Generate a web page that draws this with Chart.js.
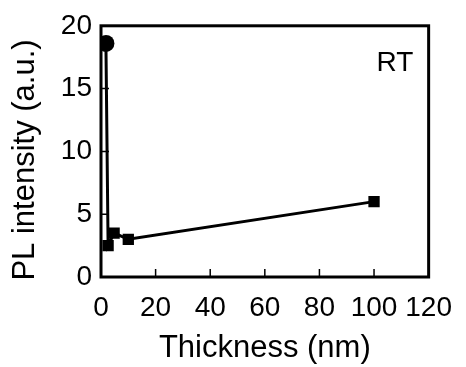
<!DOCTYPE html>
<html>
<head>
<meta charset="utf-8">
<script src="https://cdn.jsdelivr.net/npm/chart.js@4"></script>
<style>
  html, body { margin: 0; padding: 0; background: #fff; }
  #wrap { width: 466px; height: 367px; }
</style>
</head>
<body>
<div id="wrap"><canvas id="plChart" width="466" height="367"></canvas></div>
<script>
// data
const thickness = [1.8, 2.6, 4.8, 10, 100];
const plIntensity = [18.6, 2.5, 3.5, 3.0, 6.0];
const markerStyles = ['circle', 'rect', 'rect', 'rect', 'rect'];
const markerSizes = [8.5, 8, 8, 8, 8];
const xTicks = [0, 20, 40, 60, 80, 100, 120];
const yTicks = [0, 5, 10, 15, 20];

const font = "'Liberation Sans', Arial, sans-serif";

// frame, inward ticks, y title and the RT label
const framePlugin = {
    id: 'frame',
    afterDraw(chart) {
        const { ctx, chartArea: a, scales } = chart;
        ctx.save();
        ctx.strokeStyle = '#000';
        ctx.lineWidth = 3;
        ctx.strokeRect(a.left, a.top, a.right - a.left, a.bottom - a.top);
        ctx.lineWidth = 1.5;
        ctx.beginPath();
        xTicks.forEach(v => {
            if (v === 0 || v === 120) return;
            const px = scales.x.getPixelForValue(v);
            ctx.moveTo(px, a.bottom);
            ctx.lineTo(px, a.bottom - 8);
        });
        yTicks.forEach(v => {
            if (v === 0 || v === 20) return;
            const py = scales.y.getPixelForValue(v);
            ctx.moveTo(a.left, py);
            ctx.lineTo(a.left + 8, py);
        });
        ctx.stroke();

        ctx.fillStyle = '#000';
        ctx.textAlign = 'center';
        ctx.textBaseline = 'middle';
        ctx.font = '28px ' + font;
        ctx.fillText('RT', 395, 63);

        ctx.font = '31px ' + font;
        ctx.translate(25, 160);
        ctx.rotate(-Math.PI / 2);
        ctx.fillText('PL intensity (a.u.)', 0, 0);
        ctx.restore();
    }
};

new Chart(document.getElementById('plChart'), {
    type: 'scatter',
    data: {
        datasets: [{
            data: thickness.map((t, i) => ({ x: t, y: plIntensity[i] })),
            showLine: true,
            borderColor: '#000',
            backgroundColor: '#000',
            borderWidth: 3,
            pointStyle: markerStyles,
            pointRadius: markerSizes,
            pointBorderWidth: 0
        }]
    },
    options: {
        responsive: false,
        animation: false,
        layout: { padding: { top: 25, right: 36, left: 0, bottom: 0 } },
        plugins: { legend: { display: false }, tooltip: { enabled: false } },
        scales: {
            x: {
                type: 'linear',
                min: 0,
                max: 120,
                afterBuildTicks: s => { s.ticks = xTicks.map(v => ({ value: v })); },
                afterFit: s => { s.height = 90; },
                grid: { display: false, drawTicks: false },
                border: { display: false },
                ticks: { color: '#000', font: { family: font, size: 28 }, padding: 14, maxRotation: 0 },
                title: {
                    display: true,
                    text: 'Thickness (nm)',
                    color: '#000',
                    font: { family: font, size: 31 },
                    padding: { top: 0, bottom: 0 }
                }
            },
            y: {
                min: 0,
                max: 20,
                afterBuildTicks: s => { s.ticks = yTicks.map(v => ({ value: v })); },
                afterFit: s => { s.width = 101; },
                grid: { display: false, drawTicks: false },
                border: { display: false },
                ticks: { color: '#000', font: { family: font, size: 28 }, padding: 9 }
            }
        }
    },
    plugins: [framePlugin]
});
</script>
</body>
</html>
